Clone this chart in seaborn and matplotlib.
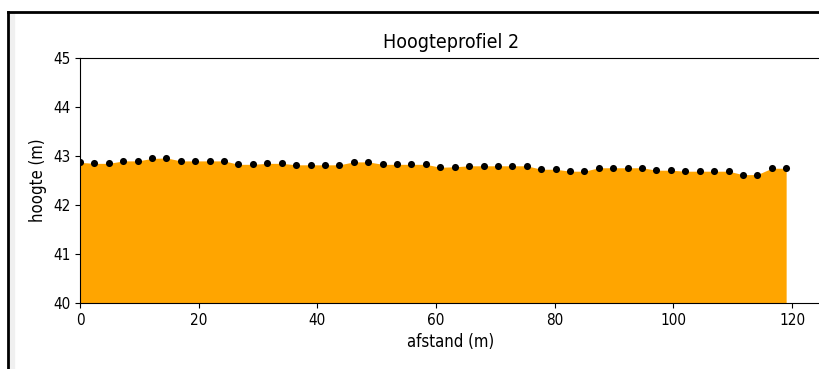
import matplotlib
matplotlib.use("Agg")
import matplotlib.pyplot as plt
import seaborn as sns
import pandas as pd
from matplotlib.lines import Line2D
from matplotlib.patches import Rectangle

# afstand langs het profiel (m) en gemeten hoogte (m)
afstand = [0.0, 2.43, 4.86, 7.29, 9.71, 12.14, 14.57, 17.0, 19.43, 21.86,
           24.29, 26.71, 29.14, 31.57, 34.0, 36.43, 38.86, 41.29, 43.71, 46.14,
           48.57, 51.0, 53.43, 55.86, 58.29, 60.71, 63.14, 65.57, 68.0, 70.43,
           72.86, 75.29, 77.71, 80.14, 82.57, 85.0, 87.43, 89.86, 92.29, 94.71,
           97.14, 99.57, 102.0, 104.43, 106.86, 109.29, 111.71, 114.14, 116.57, 119.0]
hoogte = [42.87, 42.85, 42.85, 42.90, 42.90, 42.95, 42.96, 42.90, 42.90, 42.90,
          42.90, 42.83, 42.83, 42.85, 42.85, 42.82, 42.82, 42.82, 42.82, 42.88,
          42.88, 42.83, 42.83, 42.83, 42.83, 42.77, 42.78, 42.80, 42.80, 42.80,
          42.80, 42.80, 42.73, 42.73, 42.69, 42.69, 42.76, 42.76, 42.76, 42.76,
          42.71, 42.71, 42.69, 42.69, 42.69, 42.69, 42.62, 42.62, 42.75, 42.75]

titel = "Hoogteprofiel 2"
y_min, y_max = 40, 45

df = pd.DataFrame({"afstand": afstand, "hoogte": hoogte})

plt.rcParams["font.family"] = ["DejaVu Sans"]
plt.rcParams["font.stretch"] = "condensed"

fig = plt.figure(figsize=(8.19, 3.69), dpi=100)
ax = fig.add_axes([80 / 819, 1 - 303 / 369, 1.003 - 80 / 819, (303 - 58) / 369])

ax.fill_between(df["afstand"], df["hoogte"], y_min, color="orange", linewidth=0)
sns.scatterplot(data=df, x="afstand", y="hoogte", color="black", s=26,
                linewidth=0, ax=ax, zorder=3)

ax.set_xlim(0, 124.95)
ax.set_ylim(y_min, y_max)
ax.set_title(titel, fontsize=14, pad=7)
ax.set_xlabel("afstand (m)", fontsize=12)
ax.set_ylabel("hoogte (m)", fontsize=12)
ax.tick_params(labelsize=11)

# schermafdruk-rand
fig.patches.append(Rectangle((9 / 819, 0), 5 / 819, 1 - 13 / 369,
                             transform=fig.transFigure, color="#f0f0f0", zorder=0))
fig.lines.append(Line2D([8 / 819, 8 / 819], [0, 1 - 12 / 369], transform=fig.transFigure,
                        color="black", linewidth=2))
fig.lines.append(Line2D([8 / 819, 1], [1 - 12 / 369, 1 - 12 / 369], transform=fig.transFigure,
                        color="black", linewidth=2))

fig.savefig("out.png", dpi=100)
